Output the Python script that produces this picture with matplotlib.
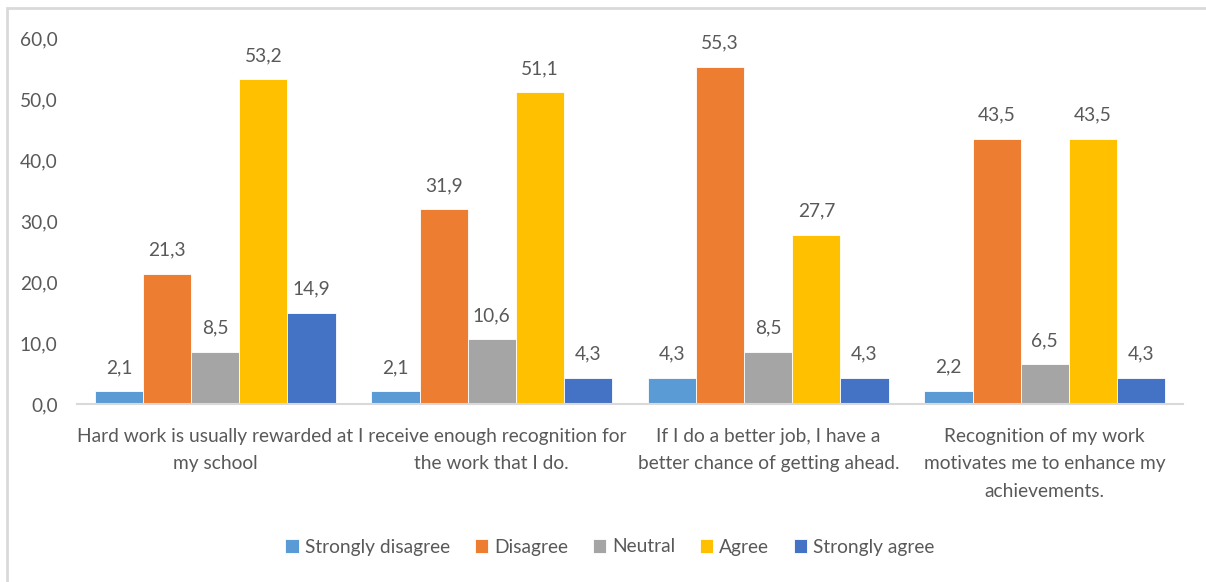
import numpy as np
import matplotlib.pyplot as plt
from matplotlib.patches import Rectangle

plt.rcParams['font.family'] = ['Lato', 'DejaVu Sans']

# --- survey data (percent) ---
statements = [
    'Hard work is usually rewarded at\nmy school',
    'I receive enough recognition for\nthe work that I do.',
    'If I do a better job, I have a\nbetter chance of getting ahead.',
    'Recognition of my work\nmotivates me to enhance my\nachievements.',
]
responses = ['Strongly disagree', 'Disagree', 'Neutral', 'Agree', 'Strongly agree']
strongly_disagree = [2.1, 2.1, 4.3, 2.2]
disagree = [21.3, 31.9, 55.3, 43.5]
neutral = [8.5, 10.6, 8.5, 6.5]
agree = [53.2, 51.1, 27.7, 43.5]
strongly_agree = [14.9, 4.3, 4.3, 4.3]
colors = ['#5b9bd5', '#ed7d31', '#a5a5a5', '#ffc000', '#4472c4']

series = [strongly_disagree, disagree, neutral, agree, strongly_agree]
text_col = '#595959'
fs = 13.8

fig = plt.figure(figsize=(12.06, 5.82), dpi=100)
ax = fig.add_axes([77 / 1206, 1 - 404 / 582, (1183 - 77) / 1206, (404 - 38) / 582])

x = np.arange(len(statements))
w = 0.174
for i, (vals, name, c) in enumerate(zip(series, responses, colors)):
    pos = x + (i - 2) * w
    ax.bar(pos, vals, width=w, color=c, label=name, edgecolor='white', linewidth=0.6)
    for xp, v in zip(pos, vals):
        ax.annotate(f'{v:.1f}'.replace('.', ','), (xp, v), xytext=(0, 11),
                    textcoords='offset points', ha='center', va='bottom',
                    fontsize=fs, color=text_col)

ax.set_xlim(-0.5, len(statements) - 0.5)
ax.set_ylim(0, 60)
ax.set_yticks(np.arange(0, 61, 10))
ax.set_yticklabels([f'{t:.1f}'.replace('.', ',') for t in np.arange(0, 61, 10)])
ax.set_xticks(x)
ax.set_xticklabels(statements, fontsize=fs, color=text_col, linespacing=1.75)
ax.tick_params(axis='y', labelsize=fs, labelcolor=text_col, length=0, pad=14)
ax.tick_params(axis='x', length=0, pad=17)
for s in ['top', 'right', 'left']:
    ax.spines[s].set_visible(False)
ax.spines['bottom'].set_color('#d9d9d9')
ax.spines['bottom'].set_linewidth(1.5)

ax.legend(loc='center', bbox_to_anchor=(610 / 1206, 1 - 547 / 582), bbox_transform=fig.transFigure,
          ncol=5, frameon=False, fontsize=fs, handlelength=0.7, handleheight=0.7,
          handletextpad=0.3, columnspacing=1.3, labelcolor=text_col)

# light chart-area frame
fig.patches.append(Rectangle((7 / 1206, -0.1), 1.2, 1 - 8 / 582 + 0.1,
                             transform=fig.transFigure, fill=False,
                             edgecolor='#d9d9d9', linewidth=2))

fig.savefig('out.png', dpi=100)
